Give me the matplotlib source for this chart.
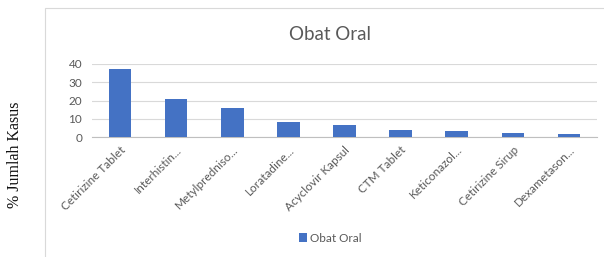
import matplotlib.pyplot as plt
from matplotlib.patches import Rectangle

# --- data ---
categories = ["Cetirizine Tablet", "Interhistin...", "Metylpredniso...", "Loratadine...",
              "Acyclovir Kapsul", "CTM Tablet", "Keticonazol...", "Cetirizine Sirup",
              "Dexametason..."]
values = [37, 21, 16, 8, 6.5, 4, 3.5, 2, 1.5]
yticks = [0, 10, 20, 30, 40]
series_name = "Obat Oral"

grey = "#595959"
bar_color = "#4472C4"

plt.rcParams['font.family'] = ['Lato', 'DejaVu Sans']

fig = plt.figure(figsize=(6.04, 2.57), dpi=100)

# chart frame (Excel-style box)
fig.patches.append(Rectangle((45 / 604, -0.1), 1.2, 1 - 8 / 257 + 0.1,
                             transform=fig.transFigure, fill=False,
                             edgecolor="#d9d9d9", linewidth=0.8))

ax = fig.add_axes([92 / 604, 1 - 137 / 257, (597 - 92) / 604, (137 - 64) / 257])
x = range(len(categories))
ax.bar(x, values, width=0.4, color=bar_color, label=series_name, zorder=3)
ax.set_xlim(-0.5, len(categories) - 0.5)
ax.set_ylim(0, 40)
ax.set_yticks(yticks)
ax.grid(axis='y', color="#d9d9d9", linewidth=0.8, zorder=0)
for s in ax.spines.values():
    s.set_visible(False)
ax.spines['bottom'].set_visible(True)
ax.spines['bottom'].set_color("#bfbfbf")
ax.tick_params(axis='both', length=0, colors=grey, labelsize=8.5)
ax.tick_params(axis='y', pad=7)
ax.tick_params(axis='x', pad=5)
ax.set_xticks(list(x))
ax.set_xticklabels(categories, rotation=45, ha='right', rotation_mode='anchor')

fig.text(330 / 604, 1 - 35 / 257, "Obat Oral", ha='center', va='center',
         fontsize=13.5, color=grey)

fig.text(15 / 604, 1 - 155 / 257, "% Jumlah Kasus", rotation=90, ha='center',
         va='center', fontsize=11.5, family=['Liberation Serif'], color="#111111")

fig.legend(loc='center', bbox_to_anchor=(330 / 604, 1 - 238 / 257), frameon=False,
           fontsize=8.5, labelcolor=grey, handlelength=0.7, handleheight=0.7,
           handletextpad=0.2)

fig.savefig("out.png", dpi=100)
